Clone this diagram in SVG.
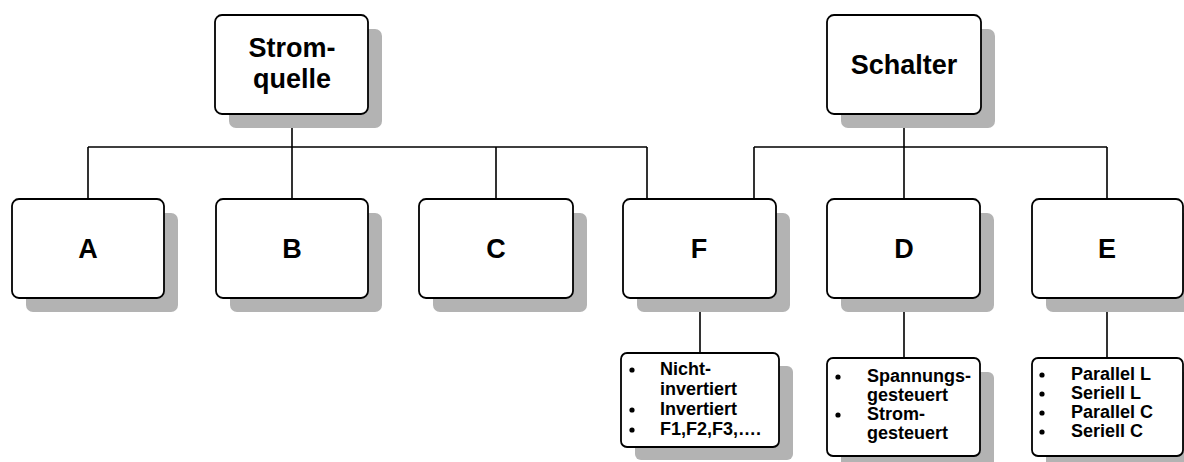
<svg xmlns="http://www.w3.org/2000/svg" width="1184" height="462" viewBox="0 0 1184 462">
<style>
.shadow{fill:#b3b3b3;stroke:none}
.box{fill:#ffffff;stroke:#000000;stroke-width:1.8}
.lbl{font-family:"Liberation Sans",Arial,sans-serif;font-weight:bold;font-size:27px;fill:#000;text-anchor:middle}
.li{font-family:"Liberation Sans",Arial,sans-serif;font-weight:bold;font-size:18px;fill:#000}
.conn{stroke:#000;stroke-width:1.6;fill:none}
.dot{fill:#000}
</style>
<rect width="1184" height="462" fill="#ffffff"/>
<g id="connectors">
<path class="conn" d="M292,114 V147 M88,147 H647 M88,147 V199 M292,147 V199 M496,147 V199 M647,147 V199"/>
<path class="conn" d="M904,114 V147 M754,147 H1107 M754,147 V199 M904,147 V199 M1107,147 V199"/>
<path class="conn" d="M700,298 V353 M904,298 V358 M1107,298 V358"/>
</g>
<g id="stromquelle">
<rect class="shadow" x="229" y="29" width="153" height="99" rx="7"/>
<rect class="box" x="215" y="15" width="153" height="99" rx="7"/>
<text class="lbl" x="292" y="57">Strom-</text>
<text class="lbl" x="292" y="88">quelle</text>
</g>
<g id="schalter">
<rect class="shadow" x="841" y="29" width="154" height="99" rx="7"/>
<rect class="box" x="827" y="15" width="154" height="99" rx="7"/>
<text class="lbl" x="904" y="74">Schalter</text>
</g>
<g id="A">
<rect class="shadow" x="26" y="213" width="152" height="99" rx="7"/>
<rect class="box" x="12" y="199" width="152" height="99" rx="7"/>
<text class="lbl" x="88" y="258">A</text>
</g>
<g id="B">
<rect class="shadow" x="230" y="213" width="152" height="99" rx="7"/>
<rect class="box" x="216" y="199" width="152" height="99" rx="7"/>
<text class="lbl" x="292" y="258">B</text>
</g>
<g id="C">
<rect class="shadow" x="433" y="213" width="154" height="99" rx="7"/>
<rect class="box" x="419" y="199" width="154" height="99" rx="7"/>
<text class="lbl" x="496" y="258">C</text>
</g>
<g id="F">
<rect class="shadow" x="637" y="213" width="153" height="99" rx="7"/>
<rect class="box" x="623" y="199" width="153" height="99" rx="7"/>
<text class="lbl" x="699" y="258">F</text>
</g>
<g id="D">
<rect class="shadow" x="841" y="213" width="153" height="99" rx="7"/>
<rect class="box" x="827" y="199" width="153" height="99" rx="7"/>
<text class="lbl" x="904" y="258">D</text>
</g>
<g id="E">
<rect class="shadow" x="1046" y="213" width="152" height="99" rx="7"/>
<rect class="box" x="1032" y="199" width="151" height="99" rx="7"/>
<text class="lbl" x="1107" y="258">E</text>
</g>
<g id="F-list">
<rect class="shadow" x="635" y="366" width="158" height="94" rx="6"/>
<rect class="box" x="621" y="353" width="158" height="94" rx="6"/>
<circle class="dot" cx="632" cy="370" r="2.6"/>
<circle class="dot" cx="632" cy="410" r="2.6"/>
<circle class="dot" cx="632" cy="430" r="2.6"/>
<text class="li" x="660" y="375">Nicht-</text>
<text class="li" x="660" y="395">invertiert</text>
<text class="li" x="660" y="415">Invertiert</text>
<text class="li" x="660" y="435">F1,F2,F3,….</text>
</g>
<g id="D-list">
<rect class="shadow" x="841" y="372" width="153" height="98" rx="6"/>
<rect class="box" x="827" y="358" width="153" height="98" rx="6"/>
<circle class="dot" cx="838" cy="377" r="2.6"/>
<circle class="dot" cx="838" cy="415" r="2.6"/>
<text class="li" x="867" y="382">Spannungs-</text>
<text class="li" x="867" y="401">gesteuert</text>
<text class="li" x="867" y="420">Strom-</text>
<text class="li" x="867" y="439">gesteuert</text>
</g>
<g id="E-list">
<rect class="shadow" x="1046" y="372" width="152" height="98" rx="6"/>
<rect class="box" x="1032" y="358" width="151" height="98" rx="6"/>
<circle class="dot" cx="1042" cy="375" r="2.6"/>
<circle class="dot" cx="1042" cy="394" r="2.6"/>
<circle class="dot" cx="1042" cy="413" r="2.6"/>
<circle class="dot" cx="1042" cy="432" r="2.6"/>
<text class="li" x="1071" y="380">Parallel L</text>
<text class="li" x="1071" y="399">Seriell L</text>
<text class="li" x="1071" y="418">Parallel C</text>
<text class="li" x="1071" y="437">Seriell C</text>
</g>
</svg>
